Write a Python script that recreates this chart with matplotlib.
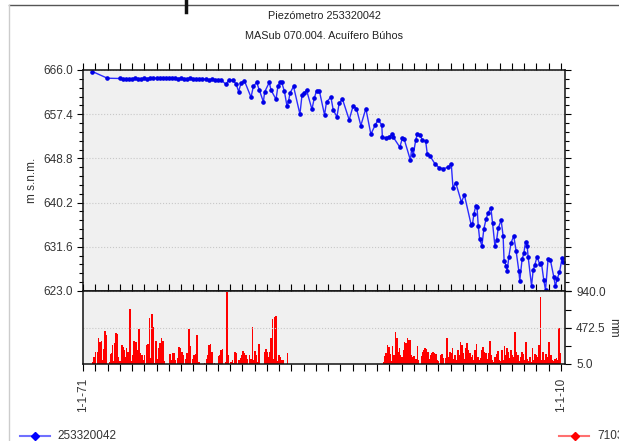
import matplotlib
matplotlib.use('Agg')
import matplotlib.pyplot as plt
import matplotlib.ticker as ticker
from matplotlib.lines import Line2D

plt.rcParams['font.family'] = ['Liberation Sans', 'DejaVu Sans']

# water level, piezometer 253320042 (decimal years, m a.s.l.)
level_years = [
    1971.77, 1972.99, 1973.99, 1974.25, 1974.5, 1974.75, 1975.0, 1975.25, 1975.5, 1975.75,
    1976.0, 1976.25, 1976.5, 1976.75, 1977.0, 1977.25, 1977.5, 1977.75, 1978.0, 1978.25,
    1978.5, 1978.75, 1979.0, 1979.25, 1979.5, 1979.75, 1980.0, 1980.25, 1980.5, 1980.75,
    1981.0, 1981.25, 1981.5, 1981.75, 1982.0, 1982.29,
    1982.68, 1982.89, 1983.22, 1983.49, 1983.70, 1983.90, 1984.17, 1984.71, 1984.90, 1985.17,
    1985.39, 1985.72, 1985.82, 1986.20, 1986.34, 1986.75, 1986.91, 1987.10, 1987.21, 1987.43,
    1987.65, 1987.78, 1987.89, 1988.18, 1988.70, 1988.87, 1989.05, 1989.24, 1989.68, 1989.87,
    1990.06, 1990.28, 1990.71, 1990.87, 1991.23, 1991.42, 1991.72, 1991.90, 1992.17, 1992.72,
    1993.04, 1993.31, 1993.67, 1994.08, 1994.49, 1994.84, 1995.08, 1995.38, 1995.43, 1995.71,
    1995.98, 1996.24, 1996.30, 1996.85, 1997.06, 1997.20, 1997.71, 1997.82, 1997.95, 1998.15,
    1998.28, 1998.48, 1998.69, 1998.96, 1999.09, 1999.31, 1999.70, 2000.05, 2000.40, 2000.81,
    2001.05, 2001.19, 2001.41, 2001.88, 2002.12, 2002.68, 2002.78, 2002.90, 2003.04, 2003.15,
    2003.25, 2003.36, 2003.55, 2003.71, 2003.90, 2004.06, 2004.28, 2004.42, 2004.61, 2004.75,
    2004.88, 2005.12, 2005.28, 2005.36, 2005.53, 2005.61, 2005.75, 2005.93, 2006.15, 2006.34,
    2006.56, 2006.64, 2006.83, 2006.97, 2007.11, 2007.24, 2007.32, 2007.60, 2007.73, 2007.87,
    2008.05, 2008.25, 2008.41, 2008.60, 2008.74, 2008.95, 2009.14, 2009.41, 2009.55, 2009.68,
    2009.88, 2010.09, 2010.20,
]
level_values = [
    665.7, 664.4, 664.35, 664.2, 664.3, 664.2, 664.3, 664.4, 664.3, 664.3,
    664.4, 664.3, 664.5, 664.4, 664.4, 664.5, 664.4, 664.4, 664.5, 664.4,
    664.4, 664.3, 664.4, 664.3, 664.3, 664.4, 664.3, 664.2, 664.3, 664.2,
    664.2, 664.1, 664.2, 664.1, 664.1, 664.0,
    663.2, 664.05, 664.0, 663.3, 661.8, 663.5, 663.9, 660.7, 662.8, 663.6,
    662.1, 659.8, 661.7, 663.6, 662.1, 660.3, 662.9, 663.7, 663.6, 661.9,
    658.9, 660.0, 661.5, 662.8, 657.4, 661.1, 661.5, 662.1, 658.35, 660.5,
    662.0, 662.0, 657.25, 659.8, 660.7, 658.2, 656.9, 659.5, 660.35, 656.3,
    659.0, 658.5, 655.2, 658.5, 653.5, 655.3, 656.3, 655.3, 652.9, 652.8,
    653.0, 653.5, 653.0, 651.0, 652.7, 652.6, 648.5, 650.6, 649.5, 652.4,
    653.5, 653.4, 652.4, 652.2, 649.7, 649.3, 647.8, 647.0, 646.8, 647.1,
    647.7, 643.1, 644.1, 640.3, 641.7, 635.8, 636.0, 638.0, 639.5, 639.4,
    635.7, 633.2, 631.8, 635.1, 637.1, 638.2, 639.2, 636.2, 631.8, 632.9,
    635.2, 636.8, 633.7, 628.9, 627.9, 626.8, 629.7, 632.4, 633.7, 630.8,
    626.95, 625.0, 629.2, 630.3, 632.6, 631.8, 629.7, 624.0, 627.0, 628.1,
    629.7, 628.3, 628.4, 625.1, 623.2, 629.2, 629.0, 625.8, 623.9, 625.3,
    626.6, 629.4, 628.7,
]

# rainfall (decimal years, mm)
rain_years = [
    1971.79, 1971.90, 1972.01, 1972.17, 1972.22, 1972.28, 1972.39, 1972.50, 1972.55, 1972.69,
    1972.79, 1972.88, 1972.93, 1973.15, 1973.23, 1973.34, 1973.42, 1973.53, 1973.61, 1973.69,
    1973.80, 1973.91, 1974.04, 1974.18, 1974.29, 1974.37, 1974.45, 1974.56, 1974.67, 1974.83,
    1974.94, 1975.10, 1975.18, 1975.32, 1975.40, 1975.48, 1975.59, 1975.70, 1975.81, 1975.92,
    1976.03, 1976.22, 1976.32, 1976.41, 1976.51, 1976.62, 1976.73, 1976.81, 1976.95, 1977.06,
    1977.19, 1977.30, 1977.41, 1977.52, 1977.63, 1978.09, 1978.20, 1978.31, 1978.41, 1978.52,
    1978.74, 1978.85, 1978.96, 1979.07, 1979.20, 1979.39, 1979.47, 1979.55, 1979.66, 1979.77,
    1979.93, 1980.07, 1980.21, 1980.31, 1980.48, 1980.91, 1981.07, 1981.18, 1981.29, 1981.40,
    1981.51, 1981.73, 1982.05, 1982.16, 1982.27, 1982.38, 1982.65, 1982.76, 1982.87, 1983.08,
    1983.19, 1983.30, 1983.41, 1983.52, 1983.73, 1983.84, 1983.95, 1984.06, 1984.17, 1984.28,
    1984.39, 1984.60, 1984.71, 1984.82, 1984.93, 1985.04, 1985.15, 1985.25, 1985.36, 1985.80,
    1985.91, 1986.01, 1986.12, 1986.23, 1986.34, 1986.45, 1986.56, 1986.67, 1986.77, 1986.88,
    1986.99, 1987.10, 1987.21, 1987.32, 1987.70,
    1995.51, 1995.62, 1995.73, 1995.84, 1995.95, 1996.05, 1996.16, 1996.27, 1996.38, 1996.49,
    1996.60, 1996.71, 1996.81, 1996.92, 1997.03, 1997.14, 1997.25, 1997.36, 1997.47, 1997.57,
    1997.68, 1997.79, 1997.90, 1998.01, 1998.17, 1998.28, 1998.39, 1998.61, 1998.71, 1998.82,
    1998.93, 1999.04, 1999.15, 1999.26, 1999.37, 1999.47, 1999.58, 1999.69, 1999.80, 1999.91,
    2000.02, 2000.18, 2000.29, 2000.40, 2000.61, 2000.72, 2000.83, 2000.94, 2001.05, 2001.16,
    2001.27, 2001.37, 2001.48, 2001.59, 2001.70, 2001.81, 2001.92, 2002.03, 2002.14, 2002.24,
    2002.35, 2002.46, 2002.57, 2002.68, 2002.79, 2002.89, 2003.00, 2003.11, 2003.22, 2003.33,
    2003.44, 2003.55, 2003.66, 2003.76, 2003.87, 2003.98, 2004.09, 2004.20, 2004.31, 2004.41,
    2004.52, 2004.63, 2004.74, 2004.85, 2004.96, 2005.07, 2005.18, 2005.28, 2005.39, 2005.50,
    2005.61, 2005.72, 2005.83, 2005.94, 2006.04, 2006.15, 2006.26, 2006.37, 2006.48, 2006.59,
    2006.70, 2006.80, 2006.91, 2007.02, 2007.13, 2007.24, 2007.35, 2007.46, 2007.56, 2007.67,
    2007.78, 2007.89, 2008.00, 2008.11, 2008.22, 2008.32, 2008.43, 2008.54, 2008.65, 2008.76,
    2008.87, 2008.98, 2009.08, 2009.19, 2009.30, 2009.41, 2009.52, 2009.63, 2009.74, 2009.84,
    2009.95,
]
rain_mm = [
    26, 90, 163, 43, 163, 342, 291, 300, 56, 197,
    428, 376, 99, 35, 133, 142, 248, 43, 270, 398,
    385, 99, 43, 248, 227, 184, 99, 206, 163, 710,
    43, 120, 300, 291, 184, 99, 449, 142, 120, 56,
    120, 248, 257, 599, 78, 650, 483, 22, 300, 69,
    214, 270, 334, 300, 43, 129, 56, 142, 142, 56,
    78, 227, 214, 163, 120, 69, 142, 43, 449, 240,
    69, 120, 129, 376, 35, 14, 69, 120, 248, 257,
    163, 22, 107, 120, 184, 197, 26, 932, 120, 35,
    56, 22, 163, 150, 56, 78, 120, 172, 142, 120,
    65, 120, 69, 475, 56, 172, 120, 35, 257, 154,
    197, 163, 99, 163, 334, 577, 65, 611, 624, 43,
    120, 99, 56, 56, 142,
    26, 107, 142, 248, 227, 129, 43, 240, 120, 419,
    334, 163, 206, 120, 99, 184, 283, 270, 342, 312,
    312, 120, 99, 107, 69, 236, 56, 107, 163, 184,
    206, 197, 163, 69, 120, 142, 163, 150, 129, 56,
    43, 120, 129, 78, 78, 342, 99, 163, 142, 214,
    69, 120, 56, 184, 120, 283, 248, 150, 69, 214,
    270, 184, 142, 99, 120, 56, 180, 257, 99, 56,
    78, 184, 227, 163, 142, 69, 142, 300, 120, 56,
    35, 99, 129, 172, 56, 43, 184, 56, 236, 120,
    214, 163, 78, 184, 120, 99, 419, 163, 120, 43,
    99, 163, 129, 56, 291, 69, 43, 99, 35, 214,
    56, 129, 120, 99, 248, 868, 56, 163, 56, 129,
    99, 291, 283, 120, 56, 43, 69, 86, 56, 462,
    142,
]

level_ticks = [623.0, 631.6, 640.2, 648.8, 657.4, 666.0]
rain_ticks = [5.0, 472.5, 940.0]
x_labels = {1971: '1-1-71', 2010: '1-1-10'}

text_col = '#333333'
W, H = 619, 441

fig = plt.figure(figsize=(W / 100, H / 100), dpi=100)
ax1 = fig.add_axes([83 / W, 1 - 291 / H, 482 / W, 221 / H], facecolor='#f0f0f0')
ax2 = fig.add_axes([83 / W, 1 - 364 / H, 482 / W, 73 / H], facecolor='#f0f0f0', sharex=ax1)

# upper panel: level
ax1.plot(level_years, level_values, color='#2b2bff', lw=1.0, marker='o', ms=2.3,
         mfc='#0000e6', mec='#0000e6')
ax1.set_xlim(1971.0, 2010.33)
ax1.set_ylim(623.0, 666.0)
ax1.set_yticks(level_ticks)
ax1.yaxis.set_major_formatter(ticker.FormatStrFormatter('%.1f'))
ax1.yaxis.set_minor_locator(ticker.AutoMinorLocator(5))
ax1.tick_params(axis='y', which='both', direction='out', left=True, right=True,
                labelsize=8.5, labelcolor=text_col, pad=3, width=0.8)
ax1.tick_params(axis='y', which='major', length=4)
ax1.tick_params(axis='y', which='minor', length=3)
ax1.xaxis.set_major_locator(ticker.MultipleLocator(1))
ax1.tick_params(axis='x', which='both', top=True, bottom=False, labelbottom=False,
                direction='out', length=5, width=0.8)
ax1.grid(axis='y', linestyle=':', color='#c8c8c8', lw=0.8)
ax1.set_ylabel('m s.n.m.', fontsize=8.5, color=text_col, labelpad=4)
ax1.set_title('Piezómetro 253320042\n\nMASub 070.004. Acuífero Búhos', fontsize=7.8,
              color='#222222', pad=22, linespacing=1.0)

# lower panel: rainfall
ax2.bar(rain_years, rain_mm, width=0.13, color='#ff0000', lw=0, align='center')
ax2.set_ylim(5.0, 940.0)
ax2.set_yticks(rain_ticks)
ax2.yaxis.set_major_formatter(ticker.FormatStrFormatter('%.1f'))
ax2.yaxis.set_minor_locator(ticker.MultipleLocator(233.75))
ax2.yaxis.tick_right()
ax2.yaxis.set_label_position('right')
ax2.tick_params(axis='y', which='both', direction='out', left=False, right=True,
                labelsize=8.5, labelcolor=text_col, pad=4, width=0.8)
ax2.tick_params(axis='y', which='major', length=4)
ax2.tick_params(axis='y', which='minor', length=4)
ax2.grid(axis='y', linestyle=':', color='#c8c8c8', lw=0.8)
ax2.set_ylabel('mm', fontsize=8.5, color=text_col, rotation=270, labelpad=10)
ax2.xaxis.set_major_locator(ticker.MultipleLocator(1))
ax2.xaxis.set_major_formatter(ticker.FuncFormatter(
    lambda v, _: x_labels.get(int(round(v)), '') if abs(v - round(v)) < 1e-6 else ''))
ax2.tick_params(axis='x', which='both', top=True, bottom=True, direction='out',
                length=5, width=0.8, labelsize=8.5, labelcolor=text_col,
                labelrotation=90, pad=5)

for ax in (ax1, ax2):
    for sp in ax.spines.values():
        sp.set_color('#111111')
        sp.set_linewidth(1.1)

# legend row
ly = 1 - 436 / H
fig.add_artist(Line2D([20 / W, 50 / W], [ly, ly], color='#7070ff', lw=1.5))
fig.add_artist(Line2D([35 / W], [ly], marker='D', ms=4.5, color='#0000ff', lw=0))
fig.text(57 / W, ly, '253320042', fontsize=8.5, color=text_col, va='center')
fig.add_artist(Line2D([559 / W, 589 / W], [ly, ly], color='#ff7070', lw=1.5))
fig.add_artist(Line2D([575 / W], [ly], marker='D', ms=4.5, color='#ff0000', lw=0))
fig.text(597 / W, ly, '7103', fontsize=8.5, color=text_col, va='center')

# window frame remnants of the original screenshot
fig.add_artist(Line2D([9 / W, 1], [1 - 5 / H, 1 - 5 / H], color='#555555', lw=1))
fig.add_artist(Line2D([9 / W, 9 / W], [0, 1 - 5 / H], color='#cccccc', lw=1))
fig.add_artist(Line2D([186 / W, 186 / W], [1, 1 - 12 / H], color='#111111', lw=2.5))

fig.savefig('out.png', dpi=100)
